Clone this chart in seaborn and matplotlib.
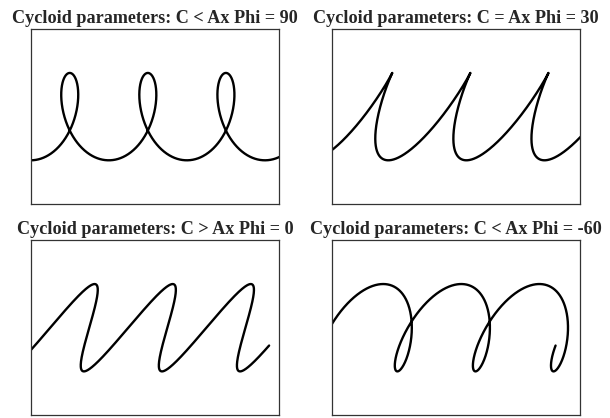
import numpy as np
import pandas as pd
import matplotlib
matplotlib.use("Agg")
import matplotlib.pyplot as plt
import seaborn as sns

sns.set_style("white")
plt.rcParams['font.family'] = ['Liberation Serif', 'DejaVu Serif']

# cycloid panels: title text and phase (degrees)
titles = ['Cycloid parameters: C < Ax Phi = 90',
          'Cycloid parameters: C = Ax Phi = 30',
          'Cycloid parameters: C > Ax Phi = 0',
          'Cycloid parameters: C < Ax Phi = -60']
phis = [90, 30, 0, -60]
roll_c = 1.0      # rolling speed
arm_a = 2.0       # arm length (x swing)
y_amp = 1.0       # vertical swing
t_range = [0, 20]
x_lim = [0, 20]
y_lim = [-2, 2]

# axes boxes in figure fractions [left, bottom, width, height]
boxes = [[0.0503, 0.512, 0.4075, 0.418],
         [0.5438, 0.512, 0.4075, 0.418],
         [0.0503, 0.007, 0.4075, 0.418],
         [0.5438, 0.007, 0.4075, 0.418]]

fig = plt.figure(figsize=(6.1, 4.18), dpi=100, facecolor="w")

t = np.linspace(t_range[0], t_range[1], 2000)
for title, phi, box in zip(titles, phis, boxes):
    ax = fig.add_axes(box)
    df = pd.DataFrame({'x': roll_c * t - arm_a * np.cos(t + np.radians(phi)),
                       'y': -y_amp * np.cos(t)})
    sns.lineplot(x='x', y='y', data=df, sort=False, estimator=None,
                 color='black', linewidth=1.7, ax=ax)
    ax.set_xlim(x_lim)
    ax.set_ylim(y_lim)
    ax.set_xticks([])
    ax.set_yticks([])
    ax.set_xlabel('')
    ax.set_ylabel('')
    for s in ax.spines.values():
        s.set_visible(True)
        s.set_color('#333333')
        s.set_linewidth(0.9)
    ax.set_title(title, fontsize=13.1, fontweight='bold', pad=4.8)

plt.savefig('out.png', dpi=100, facecolor='w')
